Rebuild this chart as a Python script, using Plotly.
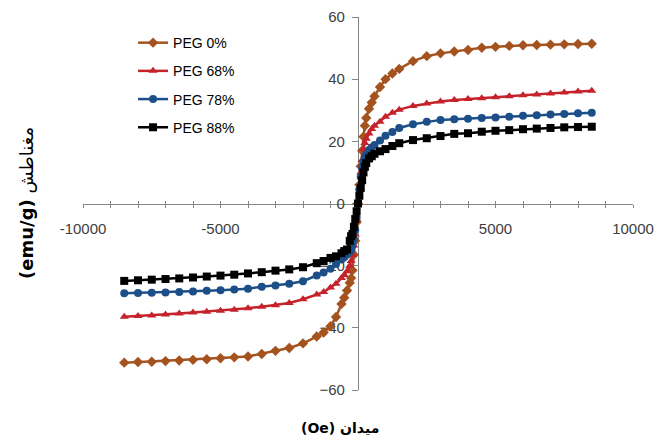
import plotly.graph_objects as go

# Field values (Oe)
field = [-8500, -8000, -7500, -7000, -6500, -6000, -5500, -5000, -4500, -4000,
         -3500, -3000, -2500, -2000, -1500, -1250, -1000, -800, -600, -500,
         -400, -300, -250, -200, -150, -100, -50, 0,
         50, 100, 150, 200, 250, 300, 400, 500, 600, 800, 1000, 1250, 1500,
         2000, 2500, 3000, 3500, 4000, 4500, 5000, 5500, 6000, 6500, 7000,
         7500, 8000, 8500]

peg0 = [-51.2, -51.0, -50.9, -50.7, -50.5, -50.3, -50.1, -49.8, -49.5, -49.2,
        -48.4, -47.4, -46.5, -45.0, -42.8, -41.5, -39.5, -36.5, -32.3, -30.3,
        -28.0, -25.5, -24.0, -21.5, -16.5, -12.0, -6.0, 0.0,
        6.0, 12.0, 17.0, 21.5, 25.0, 27.5, 30.5, 32.5, 34.5, 37.5, 40.0, 41.8, 43.3,
        45.8, 47.4, 48.3, 48.9, 49.4, 50.1, 50.4, 50.7, 50.9, 51.0, 51.1,
        51.2, 51.3, 51.4]

peg68 = [-36.4, -36.2, -36.0, -35.7, -35.4, -35.1, -34.8, -34.5, -34.2, -33.7,
         -33.2, -32.7, -32.0, -30.8, -29.3, -28.5, -27.0, -25.8, -24.0, -23.0,
         -21.8, -20.0, -18.5, -16.5, -13.5, -10.0, -5.0, 0.0,
         5.0, 10.0, 14.0, 17.5, 19.5, 20.8, 22.5, 24.0, 25.0, 26.3, 27.9, 29.2, 30.2,
         31.4, 32.2, 32.8, 33.3, 33.6, 33.9, 34.2, 34.5, 34.8, 35.1, 35.4,
         35.7, 36.0, 36.3]

peg78 = [-28.9, -28.8, -28.7, -28.6, -28.5, -28.3, -28.1, -27.9, -27.7, -27.4,
         -26.8, -26.4, -25.8, -25.0, -23.2, -22.2, -21.0, -19.5, -18.0, -17.3,
         -16.5, -15.5, -14.8, -13.5, -11.5, -8.5, -4.5, 0.0,
         4.5, 8.5, 11.5, 13.5, 15.0, 15.8, 17.2, 18.0, 18.8, 20.3, 21.8, 23.0, 24.3,
         25.5, 26.3, 26.9, 27.1, 27.3, 27.5, 27.7, 27.9, 28.2, 28.4, 28.6,
         28.8, 29.0, 29.2]

peg88 = [-24.9, -24.7, -24.5, -24.3, -24.1, -23.8, -23.5, -23.2, -22.9, -22.5,
         -22.1, -21.6, -21.2, -20.5, -19.2, -18.5, -17.5, -17.0, -16.0, -15.3,
         -14.8, -12.0, -10.5, -9.8, -7.5, -5.0, -2.5, 0.0,
         2.5, 5.0, 7.5, 10.0, 11.8, 13.0, 14.5, 15.2, 16.0, 16.8, 17.5, 18.5, 19.4,
         20.4, 21.0, 21.7, 22.4, 22.6, 23.1, 23.4, 23.6, 23.9, 24.1, 24.3,
         24.5, 24.6, 24.7]

series_names = ["PEG 0%", "PEG 68%", "PEG 78%", "PEG 88%"]
x_tick_vals = [-10000, -5000, 5000, 10000]
x_tick_text = ["-10000", "-5000", "5000", "10000"]
y_tick_vals = [-60, -40, -20, 0, 20, 40, 60]

colors = ["#A4531F", "#C5222B", "#1C4F88", "#000000"]
symbols = ["diamond", "triangle-up", "circle", "square"]
sizes = [8, 8, 8, 8]

fig = go.Figure()
for i, (name, ys) in enumerate(zip(series_names, [peg0, peg68, peg78, peg88])):
    fig.add_trace(go.Scatter(
        x=field, y=ys, name=name, mode="lines+markers",
        line=dict(color=colors[i], width=2.5),
        marker=dict(symbol=symbols[i], size=sizes[i], color=colors[i]),
        legendgroup=name,
    ))

# invisible trace to carry the second x axis (for crossing ticks)
fig.add_trace(go.Scatter(x=[0], y=[0], xaxis="x2", mode="markers",
                         marker=dict(opacity=0), showlegend=False, hoverinfo="skip"))

axis_color = "#868686"
tick_font = dict(family="Liberation Sans, Arial, sans-serif", size=15, color="#404040")

fig.update_layout(
    width=656, height=442,
    margin=dict(l=83, r=23, t=17, b=52, autoexpand=False),
    paper_bgcolor="white", plot_bgcolor="white",
    showlegend=True,
    legend=dict(
        x=0.091, y=0.973, xref="paper", yref="paper",
        xanchor="left", yanchor="top",
        font=dict(family="Liberation Sans, Arial, sans-serif", size=14, color="#000000"),
        bgcolor="rgba(0,0,0,0)", tracegroupgap=7, traceorder="grouped",
    ),
    xaxis=dict(
        range=[-10000, 10000], anchor="free", position=0.5,
        showline=True, linecolor=axis_color, linewidth=1.3,
        showgrid=False, zeroline=False,
        tickmode="array", tickvals=x_tick_vals, ticktext=x_tick_text,
        ticks="outside", ticklen=3, tickcolor=axis_color, tickwidth=1.3,
        minor=dict(dtick=1000, tick0=0, ticks="outside", ticklen=3,
                   tickcolor=axis_color, tickwidth=1.3, showgrid=False),
        tickfont=tick_font, ticklabelstandoff=8,
        layer="below traces", automargin=False,
    ),
    xaxis2=dict(
        range=[-10000, 10000], overlaying="x", anchor="free", position=0.5,
        showline=False, showgrid=False, zeroline=False,
        tickmode="array", tickvals=x_tick_vals, showticklabels=False,
        ticks="inside", ticklen=3, tickcolor=axis_color, tickwidth=1.3,
        minor=dict(dtick=1000, tick0=0, ticks="inside", ticklen=3,
                   tickcolor=axis_color, tickwidth=1.3, showgrid=False),
        layer="below traces", automargin=False,
    ),
    yaxis=dict(
        range=[-60, 60], anchor="free", position=0.5,
        showline=True, linecolor=axis_color, linewidth=1.3,
        showgrid=False, zeroline=False,
        tickmode="array", tickvals=y_tick_vals,
        ticks="outside", ticklen=6, tickcolor=axis_color, tickwidth=1.3,
        tickfont=tick_font, ticklabelstandoff=4,
        layer="below traces", automargin=False,
    ),
    annotations=[
        dict(text="<b>(Oe) میدان</b>", x=0.467, y=-0.102, xref="paper", yref="paper",
             xanchor="center", yanchor="middle", showarrow=False,
             font=dict(family="DejaVu Sans, sans-serif", size=14, color="#000000")),
        dict(text="<b>(emu/g)</b> مغناطش", x=-0.104, y=0.501, xref="paper", yref="paper",
             xanchor="center", yanchor="middle", showarrow=False, textangle=-90,
             font=dict(family="DejaVu Sans, sans-serif", size=18, color="#000000")),
    ],
)

fig.write_html("out.html", config={"displayModeBar": False},
               post_script="document.body.style.margin='0';document.body.style.padding='0';")
